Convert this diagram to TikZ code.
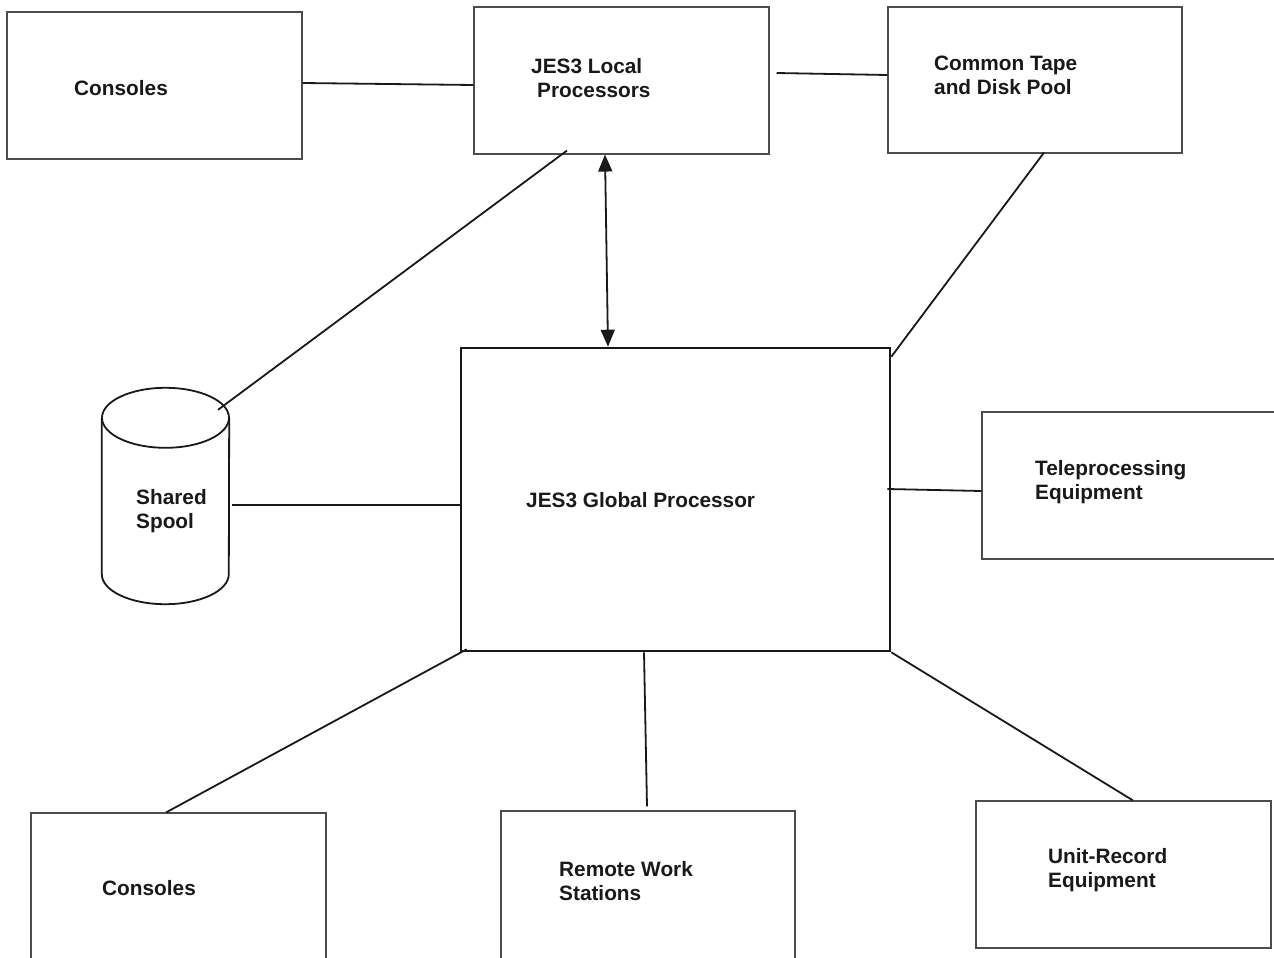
\documentclass[tikz,border=0pt]{standalone}
\usepackage{fontspec}
\setmainfont{Liberation Sans}
\usetikzlibrary{positioning,arrows.meta}
\tikzset{
box/.style={draw=black!70, line width=1.1pt, inner sep=0pt, minimum width=295pt, minimum height=147pt},
bigbox/.style={draw=black!90, line width=2.6pt, inner sep=0pt, minimum width=429pt, minimum height=303pt},
disk/.style={draw=black!90, line width=1.8pt},
link/.style={draw=black!90, line width=1.8pt},
dbl/.style={link, {Triangle[length=17pt,width=14pt]}-{Triangle[length=17pt,width=14pt]}},
lbl/.style={anchor=north west, inner sep=0pt, align=left, text=black!90, font=\fontsize{20.8}{24}\selectfont\bfseries}
}

\begin{document}
\begin{tikzpicture}[x=1pt,y=-1pt]
\useasboundingbox (0,0) rectangle (1274,958);

% boxes
\node[box] (con1) at (154.5,85.5) {};
\node[box] (loc) at (621.5,80.5) {};
\node[box, minimum width=294pt, minimum height=146pt] (pool) at (1035,80) {};
\node[bigbox] (glob) at (675.5,499.5) {};
\node[box, minimum width=300pt] (tp) at (1132,485.5) {};
\node[box, minimum height=152pt] (con2) at (178.5,889) {};
\node[box, minimum width=294pt, minimum height=152pt] (rws) at (648,887) {};
\node[box] (ur) at (1123.5,874.5) {};

% shared spool
\node[inner sep=0pt, minimum width=127pt, minimum height=216pt] (spool) at (165.5,496) {};
\draw[disk] ([yshift=-30pt]spool.north west) -- ([yshift=30pt]spool.south west)
  arc[start angle=180, end angle=360, x radius=63.5pt, y radius=30pt]
  -- ([yshift=-30pt]spool.north east);
\draw[disk] ([yshift=-30pt]spool.north) ellipse [x radius=63.5pt, y radius=30pt];
\coordinate (spooltop) at ([xshift=52.5pt,yshift=-22pt]spool.north);

% labels
\node[lbl] (con1-t) at (74,80.5) {Consoles};
\node[lbl] (loc-t) at (531,58.5) {JES3 Local\\\hspace*{6pt}Processors};
\node[lbl] (pool-t) at (934,55.5) {Common Tape\\and Disk Pool};
\node[lbl] (glob-t) at (526,492.5) {JES3 Global Processor};
\node[lbl] (tp-t) at (1035,460.5) {Teleprocessing\\Equipment};
\node[lbl] (spool-t) at (136,489.5) {Shared\\Spool};
\node[lbl] (con2-t) at (102,880.5) {Consoles};
\node[lbl] (rws-t) at (559,861.5) {Remote Work\\Stations};
\node[lbl] (ur-t) at (1048,848.5) {Unit-Record\\Equipment};

% connectors
\draw[link] ([yshift=2.5pt]con1.east) -- ([yshift=-4.5pt]loc.west);
\draw[link] ([xshift=7pt,yshift=7.5pt]loc.east) -- ([yshift=5pt]pool.west);
\draw[link] ([xshift=-54.5pt,yshift=4pt]loc.south) -- (spooltop);
\draw[dbl] ([xshift=-16.5pt]loc.south) -- ([xshift=-67.5pt]glob.north);
\draw[link] ([xshift=9pt,yshift=1pt]pool.south) -- ([yshift=-10pt]glob.north east);
\draw[link] ([xshift=3pt,yshift=-9pt]spool.east) -- ([yshift=-5.5pt]glob.west);
\draw[link] ([xshift=-4pt,yshift=10.5pt]glob.east) -- ([yshift=-5.5pt]tp.west);
\draw[link] ([xshift=7pt,yshift=3pt]glob.south west) -- ([xshift=-12.5pt]con2.north);
\draw[link] ([xshift=-31.5pt]glob.south) -- ([xshift=-1pt,yshift=4pt]rws.north);
\draw[link] (glob.south east) -- ([xshift=9.5pt]ur.north);
\end{tikzpicture}
\end{document}
